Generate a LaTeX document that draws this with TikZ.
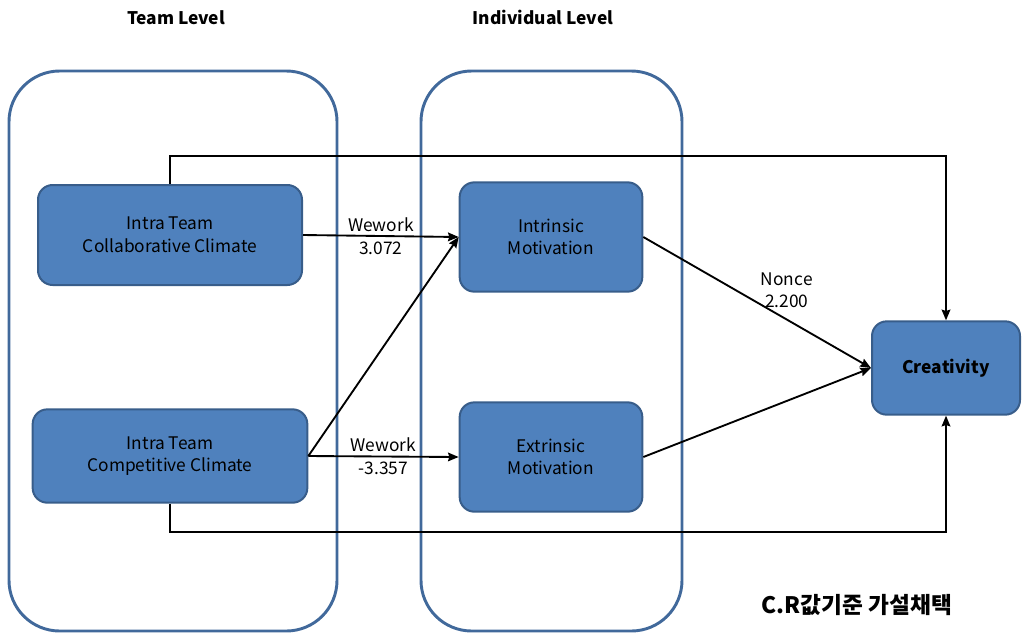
\documentclass[tikz,border=0pt]{standalone}
\usepackage{fontspec}
\setmainfont{Noto Sans CJK KR}
\usetikzlibrary{positioning,arrows.meta}

\definecolor{boxfill}{RGB}{79,129,189}
\definecolor{boxline}{RGB}{56,93,138}
\definecolor{levelline}{RGB}{65,105,155}

\tikzset{
  block/.style={rectangle,rounded corners=11pt,draw=boxline,fill=boxfill,line width=1.5pt,align=center,font=\fontsize{13}{17}\selectfont},
  level/.style={draw=levelline,line width=2.2pt,rounded corners=38pt},
  lbl/.style={align=center,font=\fontsize{13}{17}\selectfont,inner sep=0pt}
}

\begin{document}
\begin{tikzpicture}[->,>={Stealth[length=8pt,width=6.5pt,inset=1pt]},x=0.75pt,y=-0.75pt,line width=1.4pt]
  \useasboundingbox (0,0) rectangle (1023,633);
  % level frames
  \draw[level,-] (9,71) rectangle (337,631);
  \draw[level,-] (421,71) rectangle (682,631);
  \node[font=\fontsize{13}{16}\selectfont\bfseries] (team) at (176,18) {Team Level};
  \node[font=\fontsize{13}{16}\selectfont\bfseries] (indiv) at (543,17) {Individual Level};

  \node[block,minimum width=198pt,minimum height=75pt] (collab) at (170,235) {Intra Team\\Collaborative Climate};
  \node[block,minimum width=206pt,minimum height=70pt] (compet) at (170,456) {Intra Team\\Competitive Climate};
  \node[block,minimum width=137pt,minimum height=82pt] (intrin) at (551,237) {Intrinsic\\Motivation};
  \node[block,minimum width=137pt,minimum height=82pt] (extrin) at (551,457) {Extrinsic\\Motivation};
  \node[block,minimum width=111pt,minimum height=70pt,font=\fontsize{13}{17}\selectfont\bfseries] (creat) at (946,368) {Creativity};

  \node[font=\fontsize{17}{20}\selectfont\bfseries] (note) at (857,605) {C.R값기준 가설채택};

  \draw (collab.east) -- node[lbl] {Wework\\3.072} (intrin.west);
  \draw (compet.east) -- (intrin.west);
  \draw (compet.east) -- node[lbl] {Wework\\-3.357} (extrin.west);
  \draw (intrin.east) -- node[lbl,pos=0.63,above=8pt] {Nonce\\2.200} (creat.west);
  \draw (extrin.east) -- (creat.west);
  \draw (collab.north) -- ++(0,-28) -| (creat.north);
  \draw (compet.south) -- ++(0,28) -| (creat.south);
\end{tikzpicture}
\end{document}
